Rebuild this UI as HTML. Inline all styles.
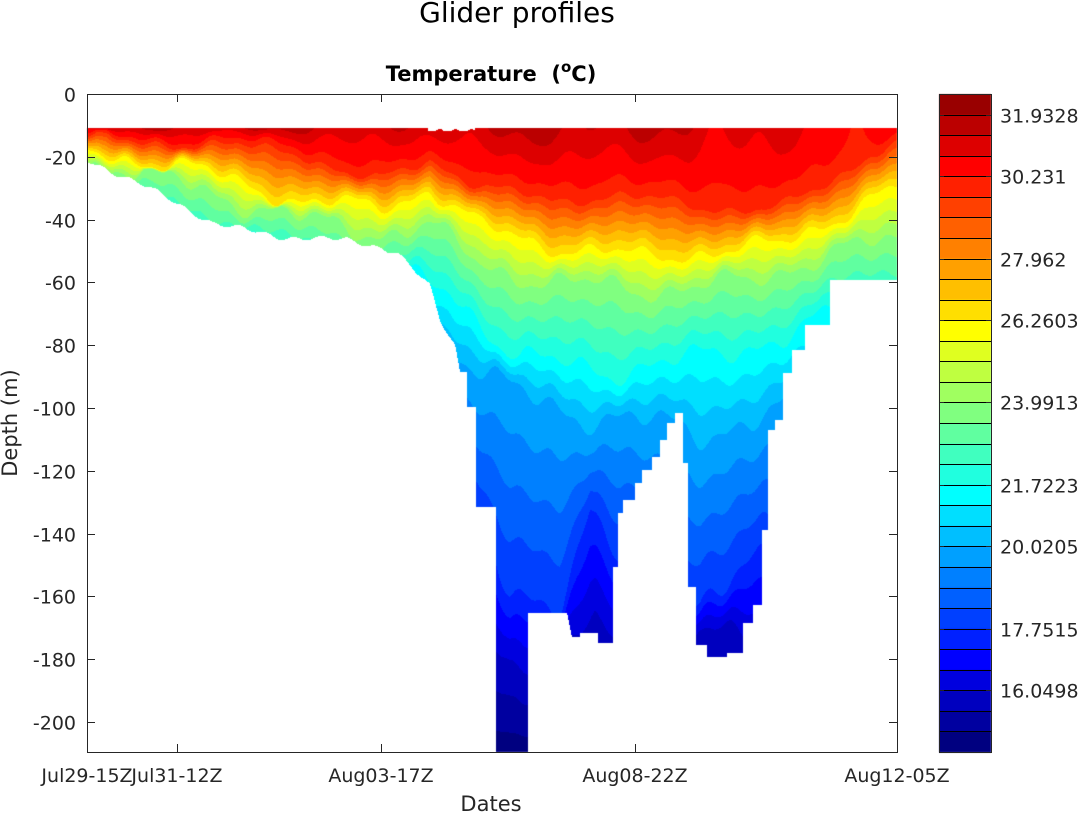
<!DOCTYPE html>
<html><head><meta charset="utf-8">
<style>
html,body{margin:0;padding:0;background:#fff;}
#wrap{position:relative;width:1085px;height:814px;overflow:hidden;font-family:"DejaVu Sans","Liberation Sans",sans-serif;color:#262626;}
canvas{position:absolute;left:0;top:0;}
svg{position:absolute;left:0;top:0;}
</style></head><body>
<div id="wrap">
<canvas id="c" width="1085" height="814"></canvas>
<svg width="1085" height="814" xmlns="http://www.w3.org/2000/svg" font-family="DejaVu Sans, Liberation Sans, sans-serif" fill="#262626">
<text x="517" y="22" font-size="28" text-anchor="middle" fill="#000">Glider profiles</text>
<text x="491" y="81" font-size="21" font-weight="bold" text-anchor="middle" fill="#000">Temperature&#160;&#160;(<tspan font-size="15" dy="-9">o</tspan><tspan dy="9">C)</tspan></text>
<text transform="translate(17,423) rotate(-90)" font-size="21" text-anchor="middle">Depth  (m)</text>
<text x="491" y="811" font-size="21" text-anchor="middle">Dates</text>
<g id="axes" stroke="#262626" stroke-width="1" fill="none"></g>
<g id="labels" font-size="19"></g>
</svg>
</div>
<script>
var L=87,R=897,T=94,B=752;
function interp(pts,x){if(x<=pts[0][0])return pts[0][1];for(var i=1;i<pts.length;i++){if(x<=pts[i][0]){var a=pts[i-1],b=pts[i];return a[1]+(b[1]-a[1])*(x-a[0])/(b[0]-a[0]);}}return pts[pts.length-1][1];}
var cols=["#990000","#bb0000","#dd0000","#ff0000","#ff2000","#ff4000","#ff6000","#ff8000","#ffa000","#ffbf00","#ffdf00","#ffff00","#dfff20","#bfff40","#a0ff60","#80ff80","#60ffa0","#40ffbf","#20ffdf","#00ffff","#00dfff","#00bfff","#00a0ff","#0080ff","#0060ff","#0040ff","#0020ff","#0000ff","#0000df","#0000bf","#0000a0","#000080"];
var rgb=cols.map(function(c){return [parseInt(c.substr(1,2),16),parseInt(c.substr(3,2),16),parseInt(c.substr(5,2),16)];});
var Ts=[[87,31.2],[300,31.4],[420,31.0],[500,31.5],[650,31.4],[750,31.0],[850,30.6],[897,30.5]];
var iso=[
 [30,[[87,14],[250,16],[300,17],[350,25],[380,27],[430,20],[480,28],[550,33],[620,30],[700,35],[780,35],[830,28],[870,17],[897,14]],1.5],
 [26.3,[[87,18],[200,24],[300,34],[380,36],[430,30],[480,42],[550,48],[600,50],[650,52],[700,50],[780,48],[830,40],[870,33],[897,30]],2],
 [24,[[87,21],[200,30],[300,40],[380,44],[430,42],[480,54],[550,60],[650,62],[750,60],[830,50],[897,47]],2.5],
 [21.7,[[87,32],[300,55],[450,62],[520,85],[600,88],[700,85],[800,75],[897,65]],3],
 [20,[[87,45],[450,80],[500,94],[560,100],[620,104],[700,108],[800,100],[897,90]],3.5],
 [17.75,[[87,70],[450,125],[510,158],[560,160],[590,136],[620,150],[700,161],[750,152],[897,140]],4],
 [16,[[87,90],[450,165],[510,180],[560,182],[595,167],[620,178],[700,172],[740,174],[897,170]],3]
];
var bot=[[87,160],[147,187],[213,223],[280,237],[347,240],[380,247],[397,253],[430,287],[440,320],[455,345],[460,372],[467,372],[467.01,407],[476,407],[476.01,507],[496,507],[496.01,760],[528,760],[528.01,613],[567,613],[572,637],[580,637],[580.01,633],[598,633],[598.01,643],[613,643],[613.01,567],[618,567],[618.01,513],[623,513],[623.01,500],[635,500],[635.01,483],[642,483],[642.01,470],[652,470],[652.01,457],[660,457],[660.01,440],[667,440],[667.01,423],[675,423],[675.01,413],[683,413],[683.01,463],[688,463],[688.01,587],[696,587],[696.01,645],[707,645],[707.01,657],[727,657],[727.01,653],[743,653],[743.01,623],[753,623],[753.01,605],[762,605],[762.01,530],[768,530],[768.01,430],[775,430],[775.01,420],[783,420],[783.01,373],[792,373],[792.01,350],[805,350],[805.01,325],[830,325],[830.01,280],[897,280]];
var ctx=document.getElementById('c').getContext('2d');
var img=ctx.createImageData(R-L,B-T);
for(var x=L;x<R;x++){
  var xx=x+0.5;
  var by=interp(bot,xx);
  if(xx<460) by+=2*Math.sin(xx*0.23)+1.5*Math.sin(xx*0.071);
  var ty=128.5; if(xx>428&&xx<475) ty=128.5+3*Math.abs(Math.sin(xx*0.2));
  var knots=[[11,interp(Ts,xx)+0.25*Math.sin(xx*0.05)+0.2*Math.sin(xx*0.13)]];
  var prev=11;
  for(var i=0;i<iso.length;i++){
    var d=interp(iso[i][1],xx)+iso[i][2]*(Math.sin(xx*0.045+i*1.7)+0.7*Math.sin(xx*0.11+i*3.1)+0.4*Math.sin(xx*0.23+i));
    if(d<prev+0.5)d=prev+0.5; prev=d; knots.push([d,iso[i][0]]);
  }
  knots.push([Math.max(212,prev+1),14.5]);
  for(var y=T;y<B;y++){
    var yy=y+0.5; if(yy<ty||yy>by)continue;
    var z=(yy-94)/3.14;
    var t=interp(knots,z);
    var k=Math.floor((32.5-t)/0.5673); if(k<0)k=0; if(k>31)k=31;
    var p=((y-T)*(R-L)+(x-L))*4;
    img.data[p]=rgb[k][0];img.data[p+1]=rgb[k][1];img.data[p+2]=rgb[k][2];img.data[p+3]=255;
  }
}
ctx.putImageData(img,L,T);
var cbL=939,cbR=991,h=658/32;
for(var k=0;k<32;k++){ctx.fillStyle=cols[k];ctx.fillRect(cbL,T+k*h,cbR-cbL,h+0.5);}
var NS="http://www.w3.org/2000/svg";
var ax=document.getElementById('axes'),lb=document.getElementById('labels');
function line(x1,y1,x2,y2,c){var l=document.createElementNS(NS,'line');l.setAttribute('x1',x1);l.setAttribute('y1',y1);l.setAttribute('x2',x2);l.setAttribute('y2',y2);if(c)l.setAttribute('stroke',c);ax.appendChild(l);}
function text(x,y,s,anc){var t=document.createElementNS(NS,'text');t.setAttribute('x',x);t.setAttribute('y',y);t.setAttribute('text-anchor',anc);t.textContent=s;lb.appendChild(t);}
for(var k=1;k<32;k++){var yy=Math.round(T+k*h)+0.5;line(cbL,yy,cbR,yy,"#000");}
var r=document.createElementNS(NS,'rect');r.setAttribute('x',L+0.5);r.setAttribute('y',T+0.5);r.setAttribute('width',R-L);r.setAttribute('height',B-T);ax.appendChild(r);
var r2=document.createElementNS(NS,'rect');r2.setAttribute('x',cbL+0.5);r2.setAttribute('y',T+0.5);r2.setAttribute('width',cbR-cbL);r2.setAttribute('height',B-T);ax.appendChild(r2);
for(var v=0;v>=-200;v-=20){var yy=Math.round(94+(-v)*3.14)+0.5;line(L,yy,L+8,yy);line(R,yy,R-8,yy);text(76,yy+7,String(v),'end');}
var xt=[[87,"Jul29-15Z"],[177,"Jul31-12Z"],[381,"Aug03-17Z"],[635,"Aug08-22Z"],[897,"Aug12-05Z"]];
xt.forEach(function(a){var xx=a[0]+0.5;line(xx,B,xx,B-8);line(xx,T,xx,T+8);text(a[0],782,a[1],'middle');});
var cl=[[114,"31.9328"],[177,"30.231"],[260,"27.962"],[322,"26.2603"],[405,"23.9913"],[488,"21.7223"],[551,"20.0205"],[634,"17.7515"],[696,"16.0498"]];
cl.forEach(function(a){var k=Math.round((a[0]-T)/h);var yy=Math.round(T+k*h)+0.5;line(cbL,yy,cbL+5,yy);line(cbR,yy,cbR-5,yy);text(1000,yy+7,a[1],'start');});
</script>
</body></html>
